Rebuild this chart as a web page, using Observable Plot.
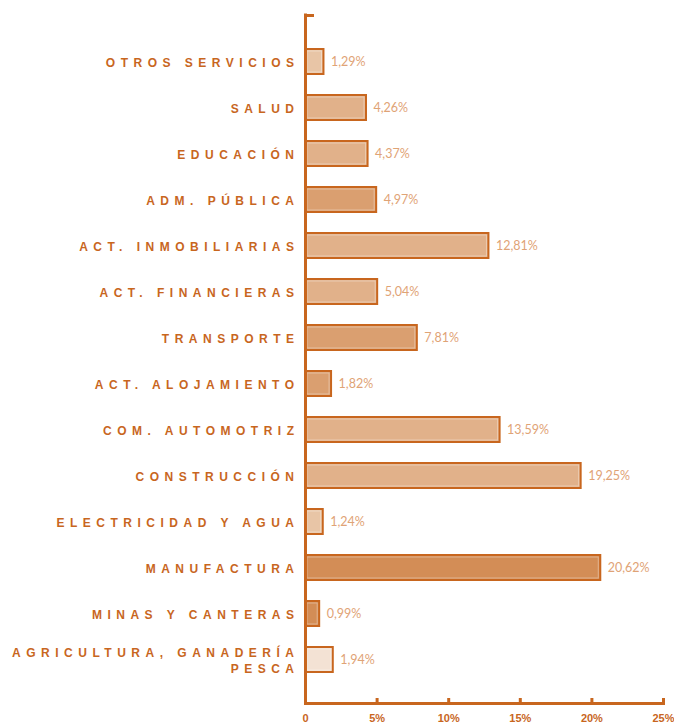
<!DOCTYPE html>
<html><head><meta charset="utf-8">
<script src="https://cdn.jsdelivr.net/npm/d3@7"></script>
<script src="https://cdn.jsdelivr.net/npm/@observablehq/plot@0.6"></script>
<style>
html,body{margin:0;padding:0;background:#fff;}
#chart svg{display:block;}
g[aria-label="y-axis tick label"] text{letter-spacing:5.5px;}
</style></head><body><div id="chart"></div>
<script>
const categories = [
  "OTROS SERVICIOS",
  "SALUD",
  "EDUCACIÓN",
  "ADM. PÚBLICA",
  "ACT. INMOBILIARIAS",
  "ACT. FINANCIERAS",
  "TRANSPORTE",
  "ACT. ALOJAMIENTO",
  "COM. AUTOMOTRIZ",
  "CONSTRUCCIÓN",
  "ELECTRICIDAD Y AGUA",
  "MANUFACTURA",
  "MINAS Y CANTERAS",
  "AGRICULTURA, GANADERÍA\nPESCA"
];
const values = [1.29, 4.26, 4.37, 4.97, 12.81, 5.04, 7.81, 1.82, 13.59, 19.25, 1.24, 20.62, 0.99, 1.94];
const shades = ["B", "C", "C", "D", "C", "C", "D", "D", "C", "C", "B", "E", "E", "A"];
const shadeNames = ["A", "B", "C", "D", "E"];
const shadeColors = ["#f3e2d4", "#e8c5a6", "#e1b18a", "#da9f70", "#d38d56"];
const xTicks = [0, 5, 10, 15, 20, 25];
const xTickLabels = ["0", "5%", "10%", "15%", "20%", "25%"];

const data = categories.map((c, i) => ({category: c, value: values[i], shade: shades[i]}));
const orange = "#c8661e";
const fmt = v => v.toFixed(2).replace(".", ",") + "%";

const chart = Plot.plot({
  width: 674,
  height: 724,
  marginLeft: 305,
  marginRight: 11,
  marginTop: 15,
  marginBottom: 21,
  style: {fontFamily: "Liberation Sans, Arial, sans-serif", background: "#fff"},
  x: {domain: [0, 25]},
  y: {domain: categories, paddingInner: 0.46, paddingOuter: 0.671, align: 0.525},
  color: {domain: shadeNames, range: shadeColors},
  marks: [
    Plot.barX(data, {x: "value", y: "category", fill: "shade", stroke: orange, strokeWidth: 2}),
    Plot.barX(data, {x: "value", y: "category", fill: "none", stroke: "#fff", strokeOpacity: 0.35, strokeWidth: 1,
      insetTop: 2, insetBottom: 2, insetLeft: 2, insetRight: 2}),
    Plot.text(data, {x: "value", y: "category", text: d => fmt(d.value), textAnchor: "start", dx: 7,
      fill: "#dfa376", fontSize: 12.5, fontFamily: "Lato, sans-serif"}),
    Plot.ruleX([0], {stroke: orange, strokeWidth: 3, strokeLinecap: "square"}),
    Plot.frame({anchor: "bottom", stroke: orange, strokeWidth: 3}),
    Plot.frame({anchor: "top", stroke: orange, strokeWidth: 3, insetRight: 351}),
    Plot.axisY({tickSize: 0, tickPadding: 6, fontSize: 12, fontWeight: "bold", color: orange, label: null, lineHeight: 1.35}),
    Plot.axisX({ticks: xTicks, tickSize: -5, strokeWidth: 3, color: orange, tickFormat: () => "", label: null}),
    Plot.axisX({ticks: xTicks, tickSize: 0, tickPadding: 11, color: orange, fontSize: 11, fontWeight: "bold",
      tickFormat: d => xTickLabels[xTicks.indexOf(d)], label: null})
  ]
});
document.getElementById("chart").append(chart);
</script>
</body></html>
